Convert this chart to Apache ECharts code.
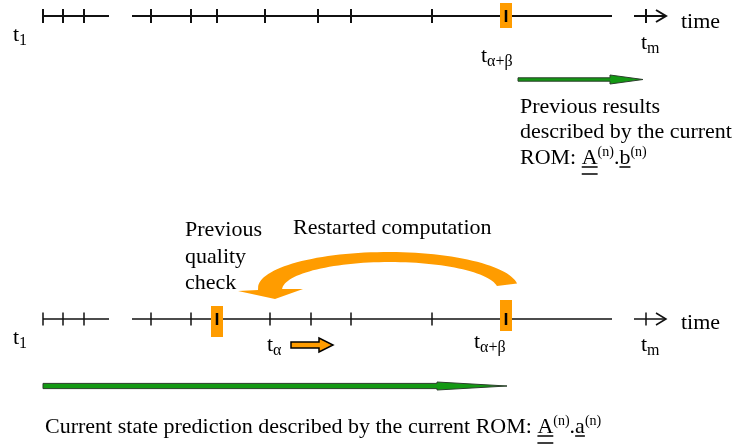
<!DOCTYPE html>
<html>
<head>
<meta charset="utf-8">
<script src="https://cdn.jsdelivr.net/npm/echarts@6/dist/echarts.min.js"></script>
<style>
  html, body { margin: 0; padding: 0; background: #fff; }
  #chart { width: 740px; height: 444px; }
</style>
</head>
<body>
<div id="chart"></div>
<script>
// diagram space: x 0..740, y 0..444 (downwards)
const axisRows = [16, 319];
const segments = [[43, 109], [132, 612], [634, 666]];
const topTicks = [43, 63, 84, 151, 191, 217, 265, 318, 351, 432, 646];
const bottomTicks = [43, 63, 84, 151, 191, 270, 311, 351, 432, 646];
const checkMarks = [[506, 3, 28, 16], [217, 306, 337, 319], [506, 300, 331, 319]];   // x, top, bottom, axis
const greenArrows = [[518, 610, 643, 79.5], [43, 437, 507, 386]];                    // start, head, tip, y
const shiftArrow = [291, 319, 333, 345];
const arcOuter = [388, 288, 130, 36];
const arcInner = [390, 290, 108, 28];
const arcHead = [[258, 290], [238, 291], [275, 299], [303, 289], [283, 289]];

const timeLabels = [
  [13, 40, 't', '1'], [481, 61, 't', 'α+β'], [641, 48, 't', 'm'], [681, 27, 'time', ''],
  [13, 343, 't', '1'], [267, 350, 't', 'α'], [474, 347, 't', 'α+β'], [641, 350, 't', 'm'], [681, 328, 'time', '']
];
const notes = [
  [520, 112, 'Previous results'], [520, 137.5, 'described by the current'],
  [293, 233, 'Restarted computation'],
  [185, 235, 'Previous'], [185, 262, 'quality'], [185, 288, 'check']
];
const topFormula = [['ROM: ', ''], ['A', 'uu'], ['(n)', 'sup'], ['.', ''], ['b', 'u'], ['(n)', 'sup']];
const bottomFormula = [['Current state prediction described by the current ROM: ', ''], ['A', 'uu'], ['(n)', 'sup'], ['.', ''], ['a', 'u'], ['(n)', 'sup']];
const formulas = [[520, 163, topFormula], [45, 432, bottomFormula]];

const FONT = 'Liberation Serif';
const ORANGE = '#ff9c00';
const INK = '#111';
const MID = 0.22;

const ctx = document.createElement('canvas').getContext('2d');
function measure(text, size) {
  ctx.font = size + 'px "' + FONT + '"';
  return ctx.measureText(text).width;
}
function txt(text, x, baseline, size) {
  return {
    type: 'text',
    style: { text: text, x: x, y: baseline - MID * size, fontSize: size, fontFamily: FONT, fill: '#000', align: 'left', verticalAlign: 'middle' }
  };
}
function seg(p1, p2, w, color) {
  return { type: 'line', shape: { x1: p1[0], y1: p1[1], x2: p2[0], y2: p2[1] }, style: { stroke: color || INK, lineWidth: w } };
}

const chart = echarts.init(document.getElementById('chart'), null, { renderer: 'canvas' });

const segData = [];
axisRows.forEach((y, r) => segments.forEach((s, i) => segData.push([s[0], y, s[1], r, i])));
const tickData = topTicks.map(x => [x, axisRows[0], 0]).concat(bottomTicks.map(x => [x, axisRows[1], 1]));

function arcPts(e, a0, a1, n) {
  const out = [];
  for (let i = 0; i <= n; i++) {
    const a = (a0 + (a1 - a0) * i / n) * Math.PI / 180;
    out.push([e[0] + e[2] * Math.cos(a), e[1] - e[3] * Math.sin(a)]);
  }
  return out;
}

const option = {
  animation: false,
  grid: { left: 0, right: 0, top: 0, bottom: 0 },
  xAxis: { type: 'value', min: 0, max: 740, show: false },
  yAxis: { type: 'value', min: 0, max: 444, inverse: true, show: false },
  series: [
    {
      // restart arrow
      type: 'custom', clip: false, data: [[arcOuter[0], arcOuter[1]]],
      renderItem: function (params, api) {
        const pts = arcPts(arcOuter, 7, 177, 60).concat(arcHead, arcPts(arcInner, 178, 8, 60));
        return { type: 'polygon', shape: { points: pts.map(p => api.coord(p)) }, style: { fill: ORANGE } };
      }
    },
    {
      type: 'custom', clip: false, data: greenArrows.map(d => [d[0], d[3]]),
      renderItem: function (params, api) {
        const d = greenArrows[params.dataIndex];
        const sh = params.dataIndex === 0 ? 1.7 : 2.6;
        const hh = params.dataIndex === 0 ? 4.5 : 4;
        const y = d[3];
        const pts = [[d[0], y - sh], [d[1], y - sh], [d[1], y - hh], [d[2], y], [d[1], y + hh], [d[1], y + sh], [d[0], y + sh]];
        return { type: 'polygon', shape: { points: pts.map(p => api.coord(p)) }, style: { fill: '#139913', stroke: '#2b3f2b', lineWidth: 1 } };
      }
    },
    {
      type: 'custom', clip: false, data: [[shiftArrow[0], shiftArrow[3]]],
      renderItem: function (params, api) {
        const d = shiftArrow, y = d[3];
        const pts = [[d[0], y - 3], [d[1], y - 3], [d[1], y - 7], [d[2], y], [d[1], y + 7], [d[1], y + 3], [d[0], y + 3]];
        return { type: 'polygon', shape: { points: pts.map(p => api.coord(p)) }, style: { fill: ORANGE, stroke: '#000', lineWidth: 1.5, lineJoin: 'miter' } };
      }
    },
    {
      type: 'custom', clip: false, data: segData,
      renderItem: function (params, api) {
        const d = segData[params.dataIndex];
        const w = d[3] === 0 ? 2 : 1.5;
        const a = api.coord([d[0], d[1]]), b = api.coord([d[2], d[1]]);
        const children = [seg(a, b, w)];
        if (d[4] === segments.length - 1) {
          children.push({ type: 'polyline', shape: { points: [[b[0] - 10, b[1] - 6], b, [b[0] - 10, b[1] + 6]] }, style: { stroke: INK, lineWidth: w, fill: null } });
        }
        return { type: 'group', children: children };
      }
    },
    {
      type: 'custom', clip: false, data: tickData,
      renderItem: function (params, api) {
        const d = tickData[params.dataIndex];
        const h = d[2] === 0 ? 7 : 6.5;
        return seg(api.coord([d[0], d[1] - h]), api.coord([d[0], d[1] + h]), d[2] === 0 ? 2 : 1.5);
      }
    },
    {
      type: 'custom', clip: false, data: checkMarks.map(d => [d[0], d[3]]),
      renderItem: function (params, api) {
        const d = checkMarks[params.dataIndex];
        const tl = api.coord([d[0] - 6, d[1]]), br = api.coord([d[0] + 6, d[2]]);
        return {
          type: 'group', children: [
            { type: 'rect', shape: { x: tl[0], y: tl[1], width: br[0] - tl[0], height: br[1] - tl[1] }, style: { fill: ORANGE } },
            seg(api.coord([d[0], d[3] - 6]), api.coord([d[0], d[3] + 6]), 2.5, '#000')
          ]
        };
      }
    },
    {
      type: 'custom', clip: false, data: timeLabels.map(d => [d[0], d[1]]),
      renderItem: function (params, api) {
        const d = timeLabels[params.dataIndex];
        const p = api.coord([d[0], d[1]]);
        const children = [txt(d[2], p[0], p[1], 22)];
        if (d[3]) children.push(txt(d[3], p[0] + measure(d[2], 22), p[1] + 4, 16));
        return { type: 'group', children: children };
      }
    },
    {
      type: 'custom', clip: false, data: notes.map(d => [d[0], d[1]]),
      renderItem: function (params, api) {
        const d = notes[params.dataIndex];
        const p = api.coord([d[0], d[1]]);
        return txt(d[2], p[0], p[1], 22);
      }
    },
    {
      type: 'custom', clip: false, data: formulas.map(d => [d[0], d[1]]),
      renderItem: function (params, api) {
        const d = formulas[params.dataIndex];
        const p = api.coord([d[0], d[1]]);
        let x = p[0];
        const b = p[1];
        const children = [];
        d[2].forEach(function (tok) {
          const size = tok[1] === 'sup' ? 14 : 22;
          const base = tok[1] === 'sup' ? b - 8 : b;
          const w = measure(tok[0], size);
          children.push(txt(tok[0], x, base, size));
          if (tok[1] === 'u' || tok[1] === 'uu') children.push(seg([x, b + 4], [x + w, b + 4], 1.5, '#000'));
          if (tok[1] === 'uu') children.push(seg([x, b + 11], [x + w, b + 11], 1.5, '#000'));
          x += w;
        });
        return { type: 'group', children: children };
      }
    }
  ]
};

chart.setOption(option);
</script>
</body>
</html>
